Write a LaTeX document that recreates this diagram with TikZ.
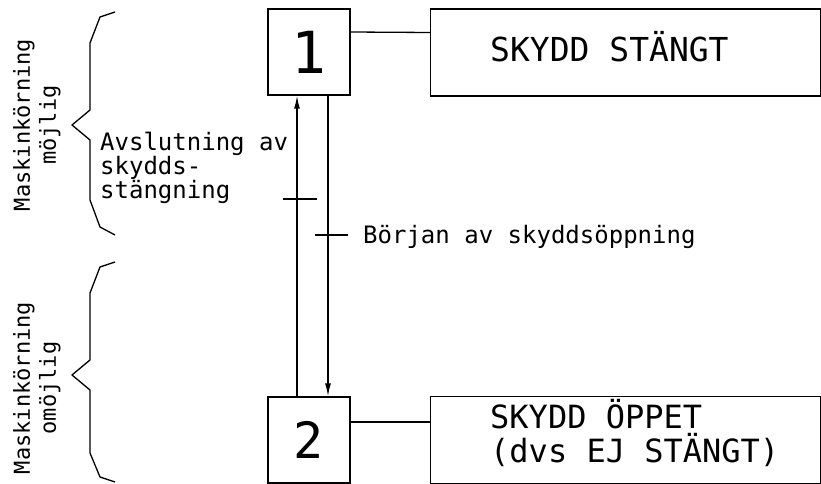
\documentclass[tikz,border=0pt]{standalone}
\usepackage{fontspec}
\usepackage{tikz}
\usetikzlibrary{arrows.meta,positioning}
\newfontfamily\cadfont{DejaVu Sans Mono}
\definecolor{inkblack}{HTML}{000000}
\tikzset{
  statebox/.style={draw=inkblack, line width=1.4pt, minimum width=82pt, minimum height=86pt, inner sep=0pt},
  textbox/.style={draw=inkblack, line width=1.4pt, minimum width=390pt, minimum height=87pt, inner sep=0pt},
  boxlabel/.style={font=\cadfont\fontsize{32}{34}\selectfont, inner sep=0pt, align=left},
  notelabel/.style={font=\cadfont\fontsize{24}{24}\selectfont, inner sep=0pt, align=left},
  sidelabel/.style={font=\cadfont\fontsize{22}{26}\selectfont, inner sep=0pt, align=center, rotate=90},
  flow/.style={draw=inkblack, line width=1.4pt, -{Latex[length=13pt,width=6pt]}},
  link/.style={draw=inkblack, line width=1.3pt},
  brace/.style={draw=inkblack, line width=1.3pt, line join=round},
}

\begin{document}
\begin{tikzpicture}[x=1pt,y=-1pt]
\useasboundingbox (0,0) rectangle (821,484);

\node[statebox] (one) at (309,52) {\cadfont\fontsize{58}{60}\selectfont 1};
\node[textbox, anchor=west] (closed) at (430,52.5) {};
\node[boxlabel, anchor=base west, font=\cadfont\fontsize{33}{34}\selectfont] (closedtext) at (490,62) {SKYDD STÄNGT};

\node[statebox] (two) at (309,440) {\cadfont\fontsize{50}{52}\selectfont 2};
\node[textbox, anchor=west] (open) at (430,440) {};
\node[boxlabel, anchor=base west] (opentext) at (490,462) {SKYDD ÖPPET\\(dvs EJ STÄNGT)};

\draw[link] ([yshift=20pt]one.east) -- ([yshift=20pt]closed.west);
\draw[link] ([yshift=18pt]two.east) -- ([yshift=18pt]open.west);

\coordinate (upx) at (297,0);
\coordinate (downx) at (328,0);
\draw[flow] (two.north -| upx) -- (one.south -| upx);
\draw[flow] (one.south -| downx) -- (two.north -| downx);

\coordinate (closing) at (297,199);
\coordinate (opening) at (328,235);
\draw[link] ([xshift=-14pt]closing) -- ([xshift=20pt]closing);
\draw[link] ([xshift=-13pt]opening) -- ([xshift=20pt]opening);
\node[notelabel, anchor=base west] (openingtext) at (363,243) {Början av skyddsöppning};
\node[notelabel, anchor=base west] (closingtext) at (100,198) {Avslutning av\\skydds-\\stängning};

\node[sidelabel] (possible) at (37,125) {Maskinkörning\\möjlig};
\node[sidelabel] (impossible) at (37,388) {Maskinkörning\\omöjlig};

\draw[brace] (115,12) -- (100,17) -- (90,43) -- (90,110) -- (72,125) -- (90,140) -- (90,200) -- (100,227) -- (115,235);
\draw[brace] (115,262) -- (100,267) -- (90,293) -- (90,360) -- (72,375) -- (90,390) -- (90,453) -- (100,477) -- (115,482);
\end{tikzpicture}
\end{document}
